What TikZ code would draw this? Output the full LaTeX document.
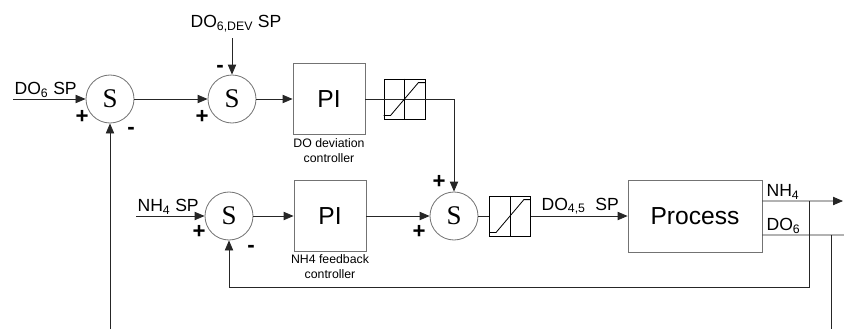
\documentclass[tikz,border=0pt]{standalone}
\usepackage{fontspec}
\setmainfont{Liberation Sans}
\newfontfamily\serifS{Liberation Serif}
\usetikzlibrary{arrows.meta}

\begin{document}
\begin{tikzpicture}[x=0.03cm, y=-0.03cm, line width=0.7pt,
  sig/.style={black!85},
  arr/.style={sig, -{Triangle[length=0.3cm,width=0.25cm]}},
  sumnode/.style={circle, draw=black!55, minimum size=1.44cm, inner sep=0pt, font=\serifS\fontsize{23}{23}\selectfont},
  pibox/.style={draw=black!55, minimum width=2.16cm, minimum height=2.13cm, inner sep=0pt, font=\fontsize{21}{21}\selectfont},
  satbox/.style={draw=black, minimum width=1.23cm, minimum height=1.2cm, inner sep=0pt},
  lbl/.style={font=\fontsize{15}{15}\selectfont, inner sep=1pt},
  small/.style={font=\fontsize{10.5}{12.8}\selectfont, align=center, inner sep=1pt},
  sgn/.style={font=\bfseries\fontsize{19}{19}\selectfont, inner sep=0pt}]
  \useasboundingbox (0,0) rectangle (844,329);
  % DO deviation loop and NH4 feedback loop
  \node[sumnode] (s1) at (110,99) {S};
  \node[sumnode] (s2) at (232,99) {S};
  \node[pibox] (pi1) at (329,99) {PI};
  \node[satbox] (sat1) at (404.5,99) {};
  \node[sumnode] (s4) at (229,216) {S};
  \node[pibox] (pi2) at (330,216) {PI};
  \node[sumnode] (s3) at (454,216) {S};
  \node[satbox] (sat2) at (510,216) {};
  \node[pibox, minimum width=4.02cm, minimum height=2.16cm] (proc) at (695,216) {Process};
  \node[small, anchor=north] (pi1lbl) at (329,137) {DO deviation\\controller};
  \node[small, anchor=north] (pi2lbl) at (330,253) {NH4 feedback\\controller};

  \coordinate (do6in) at (13,99);
  \coordinate (devin) at (232,38);
  \coordinate (fbin) at (110,329);
  \coordinate (nh4in) at (136,216);
  \coordinate (nh4out) at (843,201);
  \coordinate (do6out) at (844,235);
  \coordinate (fbx) at (809,287);
  \coordinate (do6fb) at (831,329);

  \node[lbl, anchor=south west] (do6sp) at (do6in) {DO\textsubscript{6} SP};
  \node[lbl] (devsp) at (236,24) {DO\textsubscript{6,DEV} SP};
  \node[lbl, anchor=south west] (nh4sp) at (nh4in) {NH\textsubscript{4} SP};
  \node[lbl, anchor=south west] (do45sp) at (540,216) {DO\textsubscript{4,5}~ SP};
  \node[lbl, anchor=south west] (nh4lbl) at (765,201) {NH\textsubscript{4}};
  \node[lbl, anchor=south west] (do6lbl) at (765,235) {DO\textsubscript{6}};

  \node[sgn] (p1) at (82,117) {+};   \node[sgn] (m1) at (131,131) {-};
  \node[sgn] (p2) at (202,117) {+};  \node[sgn] (m2) at (220,69) {-};
  \node[sgn] (p3) at (439,182) {+};  \node[sgn] (p4) at (419,232) {+};
  \node[sgn] (p5) at (199,232) {+};  \node[sgn] (m5) at (251,249) {-};

  \draw[arr] (do6in) -- (s1); \draw[arr] (s1) -- (s2); \draw[arr] (devin) -- (s2); \draw[arr] (fbin) -- (s1);
  \draw[arr] (s2) -- (pi1); \draw[sig] (pi1) -- (sat1); \draw[sig] (sat1.west) -- (sat1.east); \draw[arr] (sat1.east) -| (s3);
  \draw[arr] (nh4in) -- (s4); \draw[arr] (s4) -- (pi2); \draw[arr] (pi2) -- (s3); \draw[sig] (s3) -- (sat2); \draw[arr] (sat2) -- (proc);
  \draw[arr] ([yshift=0.45cm]proc.east) -- (nh4out);
  \draw[sig] ([yshift=-0.57cm]proc.east) -- (do6out);
  \draw[arr] (fbx |- nh4out) -- (fbx) -| (s4);
  \draw[sig] (do6fb |- do6out) -- (do6fb);
  \foreach \b in {sat1,sat2} {
    \draw (\b.north) -- (\b.south);
    \draw ([yshift=0.12cm]\b.south west) -- ++(0.21cm,0) -- ([xshift=-0.21cm,yshift=-0.12cm]\b.north east) -- ([yshift=-0.12cm]\b.north east);
  }
\end{tikzpicture}
\end{document}
